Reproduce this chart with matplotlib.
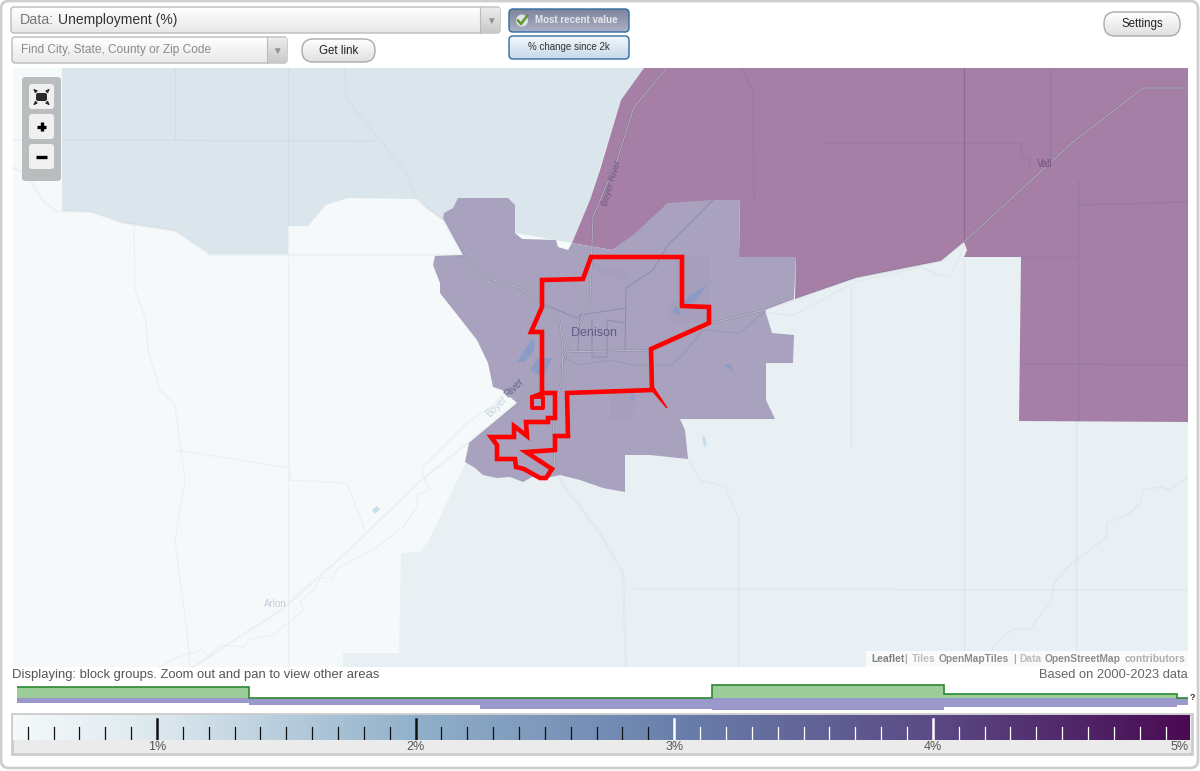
import numpy as np
import matplotlib
matplotlib.use("Agg")
import matplotlib.pyplot as plt
from matplotlib.colors import LinearSegmentedColormap
from matplotlib.patches import FancyBboxPatch, Polygon, Rectangle, Circle

plt.rcParams['font.family'] = ['Liberation Sans', 'DejaVu Sans']

# map shapes
tract_light = [(466,462),(428,542),(420,552),(401,553),(399,653),(343,653),(343,667),(1188,667),(1188,420),(1019,420),(1021,257),(964,257),(967,250),(964,242),(941,261),(856,278),(795,299),(765,310),(700,400),(500,450)]
tract_blue = [(62,68),(644,68),(621,100),(590,200),(572,243),(443,220),(426,208),(418,199),(348,198),(326,205),(308,226),(288,226),(288,254),(210,254),(176,231),(123,223),(92,212),(62,211)]
tract_high = [(644,68),(621,100),(600,170),(590,200),(572,243),(612,250),(638,235),(667,204),(740,200),(739,257),(796,257),(795,299),(856,278),(941,261),(964,242),(967,250),(964,257),(1021,257),(1019,421),(1188,422),(1188,68)]
tract_mid = [(458,198),(508,198),(515,205),(515,233),(522,239),(556,240),(558,247),(568,250),(572,243),(612,250),(633,235),(668,203),(713,200),(740,200),(739,257),(796,257),(794,299),(765,310),(772,333),(794,335),(793,363),(766,363),(766,400),(775,419),(680,419),(685,430),(688,459),(650,455),(625,455),(625,492),(603,488),(580,480),(560,475),(543,479),(532,477),(523,482),(510,477),(497,478),(483,475),(475,468),(465,462),(469,443),(517,403),(502,390),(493,387),(488,363),(477,340),(440,293),(440,283),(433,265),(435,256),(463,255),(443,218),(444,213),(453,208)]
water_dark = [
    [(532,339),(535,342),(534,350),(525,362),(517,362)],
    [(538,358),(552,358),(543,378),(530,370)],
    [(707,285),(698,298),(684,308),(680,305),(690,295)],
    [(724,364),(731,365),(733,372)],
    [(632,393),(635,400),(631,400)],
    [(675,305),(681,312),(678,315),(673,312)],
]
water_pale = [
    [(702,435),(705,437),(707,445),(704,447)],
    [(372,510),(377,506),(380,509),(375,514)],
]
town_blocks = [
    [(677,257),(710,257),(710,323),(668,323),(668,305),(677,300)],
    [(590,262),(612,268),(632,272),(628,280),(600,277)],
    [(610,390),(640,395),(630,420),(610,420)],
]
selected_outline = [(542,280),(583,279),(591,257),(682,257),(682,306),(709,307),(709,323),(651,349),(652,390),(567,393),(568,436),(555,436),(555,450),(526,452),(552,469),(546,478),(540,478),(524,469),(516,467),(515,459),(497,459),(497,445),(491,437),(514,437),(514,426),(527,436),(526,422),(548,422),(548,418),(555,418),(555,393),(542,393),(542,332),(531,332),(542,307),(542,280)]
selected_hole = [(542,393),(532,397),(532,408),(543,408),(543,397)]
selected_spike = [(650,388),(654,388),(667,408)]

roads_main = [
    [(13,168),(26,173),(43,201),(56,211),(92,212),(123,223),(176,231),(210,255),(463,255),(483,277),(520,288),(547,308),(560,323),(563,350),(562,377),(553,423),(555,470),(567,490),(600,533),(623,573),(626,667)],
    [(345,68),(346,98),(405,171),(418,200),(443,220),(463,255)],
    [(1188,88),(1143,88),(1073,142),(964,242),(941,261),(856,278),(765,310),(711,323),(653,350),(563,352)],
    [(193,667),(281,610),(346,553),(419,482),(468,443),(517,403),(553,380),(590,300),(593,217),(617,160),(634,107),(667,68)],
]
roads_minor = [
    [(160,667),(174,658),(202,650),(208,657),(220,645),(243,647),(250,639),(273,635),(304,610),(300,602),(315,588),(321,577),(331,579),(338,568),(373,550),(403,527),(417,507),(417,495),(430,490),(424,477),(422,468),(468,422),(491,407),(505,393)],
    [(563,357),(580,365),(610,360),(633,365),(670,365),(680,358),(703,330),(740,333),(758,317),(767,310)],
    [(288,68),(288,667)],
    [(175,68),(175,140)],
    [(13,140),(380,141)],
    [(134,223),(135,290),(146,320),(148,350),(160,390),(175,405),(185,480),(175,540),(188,640),(190,667)],
    [(175,450),(290,468),(290,480),(347,483),(365,530)],
    [(851,287),(851,448)],
    [(964,257),(964,667)],
    [(738,517),(738,667)],
    [(634,589),(1188,590)],
    [(1076,420),(1076,650)],
    [(688,459),(700,480),(725,487),(738,517)],
    [(742,68),(753,92),(754,200)],
    [(1050,68),(1050,160)],
    [(824,143),(1021,143),(1021,157),(1030,160),(1030,170)],
    [(1078,180),(1078,422)],
    [(1078,205),(1188,202)],
    [(1021,257),(1078,257)],
    [(1021,364),(1188,365)],
    [(1188,476),(1170,490),(1161,487),(1143,490),(1140,503),(1130,513),(1107,523),(1107,537),(1094,547),(1071,564),(1055,582),(1050,603),(1029,630),(1013,629),(1000,640),(990,652)],
    [(768,313),(793,315),(818,302),(856,282),(921,267),(939,275),(950,277),(964,247)],
]
road_county = [(964,68),(964,242)]
town_streets = [
    [(626,288),(625,350)],
    [(626,288),(653,270),(668,245),(713,200)],
    [(580,315),(600,312),(625,308)],
    [(580,315),(578,350)],
    [(592,320),(592,357),(607,357),(607,320),(625,323)],
    [(545,305),(577,318)],
]

# legend values
tick_minor = [0.5,0.6,0.7,0.8,0.9,1.1,1.2,1.3,1.4,1.5,1.6,1.7,1.8,1.9,2.1,2.2,2.3,2.4,2.5,2.6,2.7,2.8,2.9,3.1,3.2,3.3,3.4,3.5,3.6,3.7,3.8,3.9,4.1,4.2,4.3,4.4,4.5,4.6,4.7,4.8,4.9]
tick_major = [1,2,3,4]
tick_labels = ["1%","2%","3%","4%"]
scale_stops = [0.44,1.0,2.0,3.0,4.0,5.0]
scale_colors = ["#f5f9fa","#dce8ee","#90b0ca","#6a80ac","#5a4a85","#4a0a52"]

bin_edges = [0.459,1.355,2.25,3.148,4.045,4.945,4.985]
green_counts = [11,0.5,0.5,13,4,0.5]
purple_counts = [5,7,11,12,9,7]

fig = plt.figure(figsize=(12,7.71), dpi=100)
ax = fig.add_axes([0,0,1,1])
ax.set_xlim(0,1200)
ax.set_ylim(771,0)
ax.axis('off')


def grad_box(x0, y0, x1, y1, top, bottom, z=3, round_r=0, edge=None):
    cm = LinearSegmentedColormap.from_list('g', [top, bottom])
    im = ax.imshow(np.linspace(0,1,32).reshape(-1,1), extent=(x0,x1,y1,y0), cmap=cm, aspect='auto', zorder=z)
    if round_r:
        p = FancyBboxPatch((x0,y0), x1-x0, y1-y0, boxstyle="round,pad=0,rounding_size=%f" % round_r, fc='none', ec=edge, lw=1, zorder=z+0.1)
        ax.add_patch(p)
        im.set_clip_path(p)
    elif edge:
        ax.add_patch(Rectangle((x0,y0), x1-x0, y1-y0, fc='none', ec=edge, lw=1, zorder=z+0.1))


def draw_line(pts, clip_list, color, alpha, clip_alpha, lw):
    xs, ys = zip(*pts)
    ax.plot(xs, ys, color=color, alpha=alpha, lw=lw, zorder=1.6, solid_joinstyle='round')
    for c in clip_list:
        l, = ax.plot(xs, ys, color=color, alpha=clip_alpha, lw=lw, zorder=1.61, solid_joinstyle='round')
        l.set_clip_path(c)


# page frame
ax.add_patch(FancyBboxPatch((1,1), 1197, 767, boxstyle="round,pad=0,rounding_size=8", fc='white', ec='#cfcfcf', lw=2, zorder=0))

# map
ax.add_patch(Rectangle((13,68), 1175, 599, fc='#f5f9fa', ec='none', zorder=1))
ax.add_patch(Polygon(tract_light, fc='#e8f0f3', ec='none', zorder=1.1))
ax.add_patch(Polygon(tract_blue, fc='#dae6ec', ec='none', zorder=1.2))
patch_high = Polygon(tract_high, fc='#a57fa5', ec='none', zorder=1.3)
patch_mid = Polygon(tract_mid, fc='#a9a2bf', ec='none', zorder=1.4)
ax.add_patch(patch_high)
ax.add_patch(patch_mid)
for b in town_blocks:
    ax.add_patch(Polygon(b, fc='#9c98b0', alpha=0.25, ec='none', zorder=1.45))
for w in water_dark:
    ax.add_patch(Polygon(w, fc='#8a9cc6', ec='none', zorder=1.5))
for w in water_pale:
    ax.add_patch(Polygon(w, fc='#c9deeb', ec='none', zorder=1.5))
tinted = [patch_high, patch_mid]
for r in roads_minor:
    draw_line(r, tinted, '#60708a', 0.07, 0.14, 0.8)
for r in roads_main:
    draw_line(r, tinted, '#60708a', 0.07, 0.25, 1.6)
    xs, ys = zip(*r)
    ax.plot(xs, ys, color='#f4f7f8', alpha=0.5, lw=0.5, zorder=1.62, solid_joinstyle='round')
draw_line(road_county, [], '#6a4a7a', 0.4, 0.4, 0.8)
for r in town_streets:
    xs, ys = zip(*r)
    ax.plot(xs, ys, color='#6a6a88', alpha=0.4, lw=0.7, zorder=1.6)

ax.add_patch(Polygon(selected_outline, fc='none', ec='#ff0000', lw=3.3, joinstyle='miter', zorder=2))
xs, ys = zip(*selected_hole)
ax.plot(xs + (xs[1],), ys + (ys[1],), color='#ff0000', lw=2.8, zorder=2)
ax.add_patch(Polygon(selected_spike, fc='#ff0000', ec='#ff0000', lw=1, zorder=2))

ax.text(594, 333.5, "Denison", fontsize=9, color='#5e5e86', ha='center', va='center', zorder=2.5)
ax.text(612, 183, "Boyer River", fontsize=6.5, color='#6f5a82', rotation=73, ha='center', va='center', zorder=2.5)
ax.text(497, 407, "Boyer", fontsize=7, color='#c3d2de', rotation=45, ha='center', va='center', zorder=2.5)
ax.text(514, 388, "River", fontsize=7, color='#63638a', rotation=45, ha='center', va='center', zorder=2.5)
ax.text(1045, 164, "Vall", fontsize=7, color='#6e5080', ha='center', va='center', zorder=2.5)
ax.text(275, 604, "Arlon", fontsize=7, color='#c6ccd9', ha='center', va='center', zorder=2.5)

# attribution
ax.add_patch(Rectangle((866,651), 322, 16, fc='#ffffff', alpha=0.75, ec='none', zorder=3))
attribution = [(871,"Leaflet",'#808080'),(904,"|",'#aaaaaa'),(912,"Tiles",'#bcbcbc'),(939,"OpenMapTiles",'#8c8c8c'),(1013,"|",'#aaaaaa'),(1019,"Data",'#bcbcbc'),(1045,"OpenStreetMap",'#8c8c8c'),(1125,"contributors",'#aeaeae')]
for x, s, c in attribution:
    ax.text(x, 659.5, s, fontsize=7.4, color=c, fontweight='bold', ha='left', va='center', zorder=3.1)

# zoom controls
ax.add_patch(FancyBboxPatch((22,77), 39, 104, boxstyle="round,pad=0,rounding_size=3", fc='#babdbd', ec='none', zorder=3))
for yb in [84,114,144]:
    ax.add_patch(FancyBboxPatch((29,yb), 25, 25, boxstyle="round,pad=0,rounding_size=3", fc='#f0f0f0', ec='none', zorder=3.1))
ax.add_patch(FancyBboxPatch((36,93), 11, 8, boxstyle="round,pad=0,rounding_size=2", fc='#2a2a2a', ec='none', zorder=3.2))
for dx, dy in [(-1,-1),(1,-1),(-1,1),(1,1)]:
    ax.annotate("", xy=(41.5+dx*8,97+dy*8), xytext=(41.5+dx*5,97+dy*5),
                arrowprops=dict(arrowstyle='-|>', color='#2a2a2a', lw=1, mutation_scale=4), zorder=3.2)
ax.plot([37,46],[126.5,126.5], color='black', lw=2.4, solid_capstyle='butt', zorder=3.2)
ax.plot([41.5,41.5],[122,131], color='black', lw=2.4, solid_capstyle='butt', zorder=3.2)
ax.plot([36,47],[156.5,156.5], color='black', lw=2.4, solid_capstyle='butt', zorder=3.2)

# top controls
grad_box(11,7,500,33,'#ffffff','#e8e8e8',round_r=3,edge='#bbbbbb')
grad_box(480,8,500,33,'#ececec','#c8c8c8',z=3.2)
ax.plot([480,480],[7,33], color='#bbbbbb', lw=0.8, zorder=3.4)
ax.text(20, 20, "Data:", fontsize=10.3, color='#777777', va='center', zorder=4)
ax.text(58, 20, "Unemployment (%)", fontsize=10, color='#333333', va='center', zorder=4)
ax.text(491, 20.5, "▼", fontsize=7, color='#8f8f8f', ha='center', va='center', zorder=4)

grad_box(12,37,287,63,'#ffffff','#e8e8e8',round_r=3,edge='#bbbbbb')
grad_box(267,38,287,63,'#ececec','#c8c8c8',z=3.2)
ax.plot([267,267],[37,63], color='#bbbbbb', lw=0.8, zorder=3.4)
ax.text(21, 50, "Find City, State, County or Zip Code", fontsize=8.6, color='#8a8a8a', va='center', zorder=4)
ax.text(277, 50.5, "▼", fontsize=7, color='#8f8f8f', ha='center', va='center', zorder=4)

grad_box(302,39,375,62,'#ffffff','#e0e0e0',round_r=11,edge='#aaaaaa')
ax.text(339, 50.5, "Get link", fontsize=8.3, color='#222222', ha='center', va='center', zorder=4)

grad_box(509,9,629,32,'#7f849c','#aab0c4',round_r=4,edge='#2f6a9f')
ax.text(576, 20, "Most recent value", fontsize=7, color='#e8e8ee', fontweight='bold', ha='center', va='center', zorder=4)
ax.add_patch(Circle((522,20.5), 6, fc='#dfe3e8', ec='none', zorder=4))
ax.plot([518,521,527],[20.5,24,16], color='#5a9a2a', lw=1.8, zorder=4.1)

grad_box(509,36,629,59,'#f3f7fb','#c6d9ea',round_r=4,edge='#2f6a9f')
ax.text(569, 47, "% change since 2k", fontsize=7, color='#333333', ha='center', va='center', zorder=4)

grad_box(1104,12,1180,36,'#ffffff','#e0e0e0',round_r=11,edge='#aaaaaa')
ax.text(1142, 24.5, "Settings", fontsize=8.3, color='#222222', ha='center', va='center', zorder=4)

# captions
ax.text(12, 675, "Displaying: block groups. Zoom out and pan to view other areas", fontsize=9.4, color='#555555', va='center')
ax.text(1188, 675, "Based on 2000-2023 data", fontsize=9.3, color='#666666', ha='right', va='center')

# legend frame
ax.add_patch(Rectangle((12,714), 1180, 40, fc='#ebebeb', ec='#cccccc', lw=2, zorder=1))

# legend axes share one percent scale
pct_lo = (13-157)/258.6 + 1
pct_hi = (1190-157)/258.6 + 1

ax_hist = fig.add_axes([13/1200, 1-715/771, 1177/1200, 32/771])
ax_hist.set_xlim(pct_lo, pct_hi)
ax_hist.set_ylim(-17, 15)
ax_hist.axis('off')
widths = np.diff(bin_edges)
ax_hist.bar(bin_edges[:-1], np.negative(purple_counts), widths, align='edge', color='#9b99cc', lw=0)
ax_hist.bar(bin_edges[:-1], green_counts, widths, align='edge', color='#9ccc98', lw=0)
ax_hist.stairs(green_counts, bin_edges, color='#2b8a30', lw=1.2, baseline=None)
ax_hist.text(bin_edges[-1]+0.01, 1, "?", fontsize=6.5, fontweight='bold', color='#333333', ha='left', va='center')

ax_scale = fig.add_axes([13/1200, 1-740/771, 1177/1200, 25/771])
ax_scale.set_xlim(pct_lo, pct_hi)
ax_scale.set_ylim(0, 25)
ax_scale.axis('off')
stops = (np.array(scale_stops)-scale_stops[0])/(scale_stops[-1]-scale_stops[0])
scale_cmap = LinearSegmentedColormap.from_list('scale', list(zip(stops, scale_colors)))
ax_scale.imshow(np.linspace(0,1,512).reshape(1,-1), extent=(scale_stops[0],scale_stops[-1],0,25), cmap=scale_cmap, aspect='auto')
ax_scale.set_xlim(pct_lo, pct_hi)
ax_scale.set_ylim(0, 25)
for v in tick_minor:
    ax_scale.plot([v,v],[1,13], color='#111111' if v < 3 else 'white', lw=0.9)
for v in tick_major:
    ax_scale.plot([v,v],[1,21], color='#111111' if v < 3 else 'white', lw=1.8)

for v, s in zip(tick_major, tick_labels):
    ax.text(157+(v-1)*258.6, 747, s, fontsize=9, color='#555555', ha='center', va='center', zorder=2)
ax.text(1189, 747, "5%", fontsize=9, color='#555555', ha='right', va='center', zorder=2)

fig.savefig("out.png", dpi=100)
